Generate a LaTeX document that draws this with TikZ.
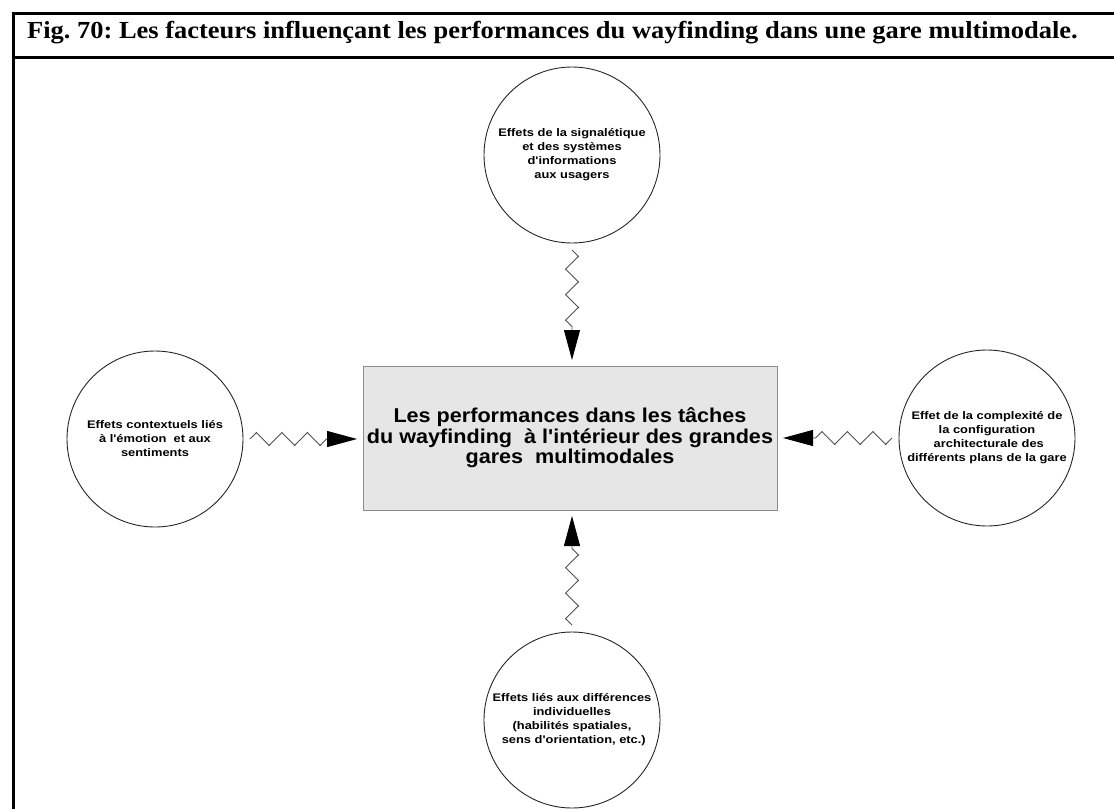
\documentclass[tikz,border=0pt]{standalone}
\usepackage{fontspec}
\setmainfont{Liberation Serif}
\newfontfamily\titleserif{Liberation Serif}[FakeStretch=1.08]
\newfontfamily\smallsans{Liberation Sans}[FakeStretch=1.17]
\newfontfamily\boxsans{Liberation Sans}[FakeStretch=1.08]
\usetikzlibrary{arrows.meta,decorations.pathmorphing}
\definecolor{boxfill}{RGB}{230,230,230}
\definecolor{boxline}{RGB}{140,140,140}
\definecolor{zzline}{RGB}{80,80,80}
\frenchspacing
\tikzset{
  frameline/.style={line width=3pt,black},
  factor/.style={circle,draw=black!85,line width=0.9pt,minimum size=176pt,inner sep=0pt,
    outer sep=7pt,align=center,font=\smallsans\bfseries\fontsize{11}{14}\selectfont},
  centerbox/.style={rectangle,draw=boxline,fill=boxfill,line width=1pt,minimum width=414pt,
    minimum height=144pt,inner sep=0pt,outer sep=6pt,align=center,font=\boxsans\bfseries\fontsize{20}{20.5}\selectfont},
  zz/.style={draw=zzline,line width=0.9pt,decorate,
    decoration={zigzag,segment length=25.5pt,amplitude=6.5pt,pre length=0pt,post length=30pt},
    -{Triangle[length=30pt,width=16pt,color=black,fill=black]}}
}
\begin{document}
\begin{tikzpicture}[x=1pt,y=-1pt]
\useasboundingbox (0,0) rectangle (1114,809);
% frame
\draw[frameline] (13.5,809) -- (13.5,13) -- (1114,13);
\draw[frameline] (12,57) -- (1114,57);
\node[anchor=base west,inner sep=0pt,font=\titleserif\bfseries\fontsize{24.5}{24.5}\selectfont] (title) at (27,38)
  {Fig. 70: Les facteurs influençant les performances du wayfinding dans une gare multimodale.};
% nodes
\node[centerbox] (box) at (570,438) {Les performances dans les tâches\\du wayfinding \ à l'intérieur des grandes\\gares \ multimodales};
\node[factor] (top) at (572,155) {Effets de la signalétique\\et des systèmes\\d'informations\\aux usagers};
\node[factor] (left) at (155,439) {Effets contextuels liés\\à l'émotion \ et aux\\sentiments};
\node[factor] (right) at (987,438) {Effet de la complexité de\\la configuration\\\ architecturale des\\différents plans de la gare};
\node[factor] (bottom) at (572,720) {Effets liés aux différences\\individuelles\\(habilités spatiales,\\\ sens d'orientation, etc.)};
% connectors
\draw[zz] (top.south) -- (box.north -| top.south);
\draw[zz] (left.east) -- (box.west |- left.east);
\draw[zz] (right.west) -- (box.east |- right.west);
\draw[zz] (bottom.north) -- (box.south -| bottom.north);
\end{tikzpicture}
\end{document}
